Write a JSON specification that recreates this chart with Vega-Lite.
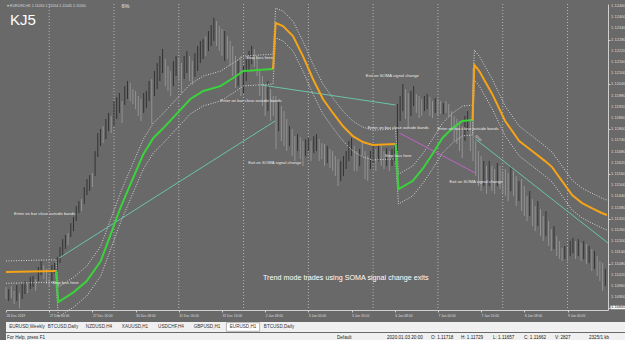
{
"$schema": "https://vega.github.io/schema/vega-lite/v6.json",
"background": "#696969",
"padding": {"left": 2, "top": 3, "right": 0, "bottom": 0},
"spacing": 0,
"config": {"font": "Liberation Sans", "view": {"stroke": null}, "axis": {"labelOverlap": false}},
"datasets": {
"bars": [
{"i":0,"h":1.10954,"l":1.10890,"dir":"down"},{"i":1,"h":1.10943,"l":1.10879,"dir":"up"},{"i":2,"h":1.10959,"l":1.10895,"dir":"down"},{"i":3,"h":1.10933,"l":1.10863,"dir":"down"},{"i":4,"h":1.10965,"l":1.10879,"dir":"up"},{"i":5,"h":1.10922,"l":1.10841,"dir":"down"},{"i":6,"h":1.10970,"l":1.10890,"dir":"up"},{"i":7,"h":1.10986,"l":1.10917,"dir":"up"},{"i":8,"h":1.10975,"l":1.10922,"dir":"down"},{"i":9,"h":1.11008,"l":1.10943,"dir":"up"},
{"i":10,"h":1.11013,"l":1.10954,"dir":"up"},{"i":11,"h":1.10997,"l":1.10933,"dir":"down"},{"i":12,"h":1.11061,"l":1.10986,"dir":"up"},{"i":13,"h":1.11093,"l":1.11018,"dir":"up"},{"i":14,"h":1.11072,"l":1.10997,"dir":"down"},{"i":15,"h":1.11051,"l":1.10970,"dir":"down"},{"i":16,"h":1.10997,"l":1.10954,"dir":"down"},{"i":17,"h":1.11072,"l":1.10986,"dir":"up"},{"i":18,"h":1.11083,"l":1.11029,"dir":"up"},{"i":19,"h":1.11115,"l":1.11040,"dir":"up"},
{"i":20,"h":1.11168,"l":1.11083,"dir":"up"},{"i":21,"h":1.11211,"l":1.11120,"dir":"up"},{"i":22,"h":1.11233,"l":1.11158,"dir":"up"},{"i":23,"h":1.11243,"l":1.11179,"dir":"down"},{"i":24,"h":1.11297,"l":1.11222,"dir":"up"},{"i":25,"h":1.11329,"l":1.11254,"dir":"up"},{"i":26,"h":1.11388,"l":1.11308,"dir":"up"},{"i":27,"h":1.11415,"l":1.11351,"dir":"up"},{"i":28,"h":1.11426,"l":1.11361,"dir":"down"},{"i":29,"h":1.11490,"l":1.11399,"dir":"up"},
{"i":30,"h":1.11533,"l":1.11447,"dir":"up"},{"i":31,"h":1.11554,"l":1.11469,"dir":"up"},{"i":32,"h":1.11565,"l":1.11490,"dir":"down"},{"i":33,"h":1.11683,"l":1.11549,"dir":"up"},{"i":34,"h":1.11779,"l":1.11651,"dir":"up"},{"i":35,"h":1.11801,"l":1.11710,"dir":"up"},{"i":36,"h":1.11817,"l":1.11726,"dir":"down"},{"i":37,"h":1.11855,"l":1.11747,"dir":"up"},{"i":38,"h":1.11887,"l":1.11790,"dir":"up"},{"i":39,"h":1.11871,"l":1.11779,"dir":"down"},
{"i":40,"h":1.11951,"l":1.11817,"dir":"up"},{"i":41,"h":1.11972,"l":1.11855,"dir":"up"},{"i":42,"h":1.11994,"l":1.11887,"dir":"up"},{"i":43,"h":1.11951,"l":1.11833,"dir":"down"},{"i":44,"h":1.12031,"l":1.11930,"dir":"up"},{"i":45,"h":1.12058,"l":1.11962,"dir":"up"},{"i":46,"h":1.12047,"l":1.11951,"dir":"down"},{"i":47,"h":1.12015,"l":1.11935,"dir":"down"},{"i":48,"h":1.12005,"l":1.11908,"dir":"down"},{"i":49,"h":1.11978,"l":1.11871,"dir":"down"},
{"i":50,"h":1.11962,"l":1.11844,"dir":"down"},{"i":51,"h":1.11994,"l":1.11887,"dir":"up"},{"i":52,"h":1.12005,"l":1.11913,"dir":"up"},{"i":53,"h":1.12058,"l":1.11951,"dir":"up"},{"i":54,"h":1.12069,"l":1.11828,"dir":"down"},{"i":55,"h":1.12112,"l":1.11978,"dir":"up"},{"i":56,"h":1.12155,"l":1.12015,"dir":"up"},{"i":57,"h":1.12192,"l":1.12058,"dir":"up"},{"i":58,"h":1.12230,"l":1.12101,"dir":"up"},{"i":59,"h":1.12176,"l":1.12031,"dir":"down"},
{"i":60,"h":1.12139,"l":1.12005,"dir":"down"},{"i":61,"h":1.12112,"l":1.11978,"dir":"down"},{"i":62,"h":1.12165,"l":1.12031,"dir":"up"},{"i":63,"h":1.12192,"l":1.12085,"dir":"up"},{"i":64,"h":1.12176,"l":1.12058,"dir":"down"},{"i":65,"h":1.12155,"l":1.11994,"dir":"down"},{"i":66,"h":1.12192,"l":1.12069,"dir":"up"},{"i":67,"h":1.12219,"l":1.12101,"dir":"up"},{"i":68,"h":1.12192,"l":1.12058,"dir":"down"},{"i":69,"h":1.12165,"l":1.12037,"dir":"down"},
{"i":70,"h":1.12208,"l":1.12080,"dir":"up"},{"i":71,"h":1.12246,"l":1.12112,"dir":"up"},{"i":72,"h":1.12273,"l":1.12155,"dir":"up"},{"i":73,"h":1.12283,"l":1.12176,"dir":"up"},{"i":74,"h":1.12299,"l":1.12192,"dir":"down"},{"i":75,"h":1.12326,"l":1.12219,"dir":"up"},{"i":76,"h":1.12358,"l":1.12246,"dir":"up"},{"i":77,"h":1.12396,"l":1.12273,"dir":"up"},{"i":78,"h":1.12380,"l":1.12246,"dir":"down"},{"i":79,"h":1.12353,"l":1.12219,"dir":"down"},
{"i":80,"h":1.12337,"l":1.12192,"dir":"down"},{"i":81,"h":1.12326,"l":1.12165,"dir":"up"},{"i":82,"h":1.12299,"l":1.12176,"dir":"down"},{"i":83,"h":1.12273,"l":1.12139,"dir":"down"},{"i":84,"h":1.12246,"l":1.12085,"dir":"down"},{"i":85,"h":1.12192,"l":1.12021,"dir":"down"},{"i":86,"h":1.12165,"l":1.12031,"dir":"up"},{"i":87,"h":1.12192,"l":1.11978,"dir":"down"},{"i":88,"h":1.12139,"l":1.11994,"dir":"up"},{"i":89,"h":1.12176,"l":1.12058,"dir":"up"},
{"i":90,"h":1.12219,"l":1.12112,"dir":"up"},{"i":91,"h":1.12246,"l":1.12149,"dir":"up"},{"i":92,"h":1.12230,"l":1.12133,"dir":"down"},{"i":93,"h":1.12192,"l":1.12085,"dir":"down"},{"i":94,"h":1.12122,"l":1.11978,"dir":"down"},{"i":95,"h":1.12085,"l":1.11924,"dir":"down"},{"i":96,"h":1.12031,"l":1.11871,"dir":"down"},{"i":97,"h":1.12058,"l":1.11897,"dir":"up"},{"i":98,"h":1.12015,"l":1.11844,"dir":"down"},{"i":99,"h":1.11978,"l":1.11871,"dir":"down"},
{"i":100,"h":1.11978,"l":1.11694,"dir":"down"},{"i":101,"h":1.11951,"l":1.11790,"dir":"up"},{"i":102,"h":1.11924,"l":1.11737,"dir":"down"},{"i":103,"h":1.11897,"l":1.11710,"dir":"down"},{"i":104,"h":1.11855,"l":1.11683,"dir":"down"},{"i":105,"h":1.11817,"l":1.11710,"dir":"up"},{"i":106,"h":1.11801,"l":1.11656,"dir":"down"},{"i":107,"h":1.11763,"l":1.11629,"dir":"down"},{"i":108,"h":1.11774,"l":1.11683,"dir":"up"},{"i":109,"h":1.11758,"l":1.11640,"dir":"down"},
{"i":110,"h":1.11737,"l":1.11603,"dir":"down"},{"i":111,"h":1.11747,"l":1.11656,"dir":"up"},{"i":112,"h":1.11753,"l":1.11683,"dir":"up"},{"i":113,"h":1.11737,"l":1.11629,"dir":"down"},{"i":114,"h":1.11763,"l":1.11672,"dir":"up"},{"i":115,"h":1.11774,"l":1.11683,"dir":"up"},{"i":116,"h":1.11747,"l":1.11629,"dir":"down"},{"i":117,"h":1.11726,"l":1.11640,"dir":"down"},{"i":118,"h":1.11721,"l":1.11603,"dir":"down"},{"i":119,"h":1.11710,"l":1.11619,"dir":"up"},
{"i":120,"h":1.11694,"l":1.11592,"dir":"down"},{"i":121,"h":1.11683,"l":1.11576,"dir":"down"},{"i":122,"h":1.11656,"l":1.11549,"dir":"down"},{"i":123,"h":1.11640,"l":1.11495,"dir":"down"},{"i":124,"h":1.11629,"l":1.11522,"dir":"up"},{"i":125,"h":1.11656,"l":1.11549,"dir":"up"},{"i":126,"h":1.11683,"l":1.11587,"dir":"up"},{"i":127,"h":1.11737,"l":1.11629,"dir":"up"},{"i":128,"h":1.11753,"l":1.11656,"dir":"up"},{"i":129,"h":1.11710,"l":1.11576,"dir":"down"},
{"i":130,"h":1.11683,"l":1.11576,"dir":"down"},{"i":131,"h":1.11694,"l":1.11603,"dir":"up"},{"i":132,"h":1.11729,"l":1.11657,"dir":"down"},{"i":133,"h":1.11683,"l":1.11533,"dir":"down"},{"i":134,"h":1.11656,"l":1.11522,"dir":"down"},{"i":135,"h":1.11683,"l":1.11587,"dir":"up"},{"i":136,"h":1.11710,"l":1.11619,"dir":"up"},{"i":137,"h":1.11694,"l":1.11576,"dir":"down"},{"i":138,"h":1.11721,"l":1.11629,"dir":"up"},{"i":139,"h":1.11710,"l":1.11603,"dir":"down"},
{"i":140,"h":1.11683,"l":1.11587,"dir":"down"},{"i":141,"h":1.11699,"l":1.11603,"dir":"up"},{"i":142,"h":1.11683,"l":1.11576,"dir":"down"},{"i":143,"h":1.11694,"l":1.11603,"dir":"up"},{"i":144,"h":1.11710,"l":1.11629,"dir":"up"},{"i":145,"h":1.11935,"l":1.11683,"dir":"up"},{"i":146,"h":1.11978,"l":1.11844,"dir":"up"},{"i":147,"h":1.12042,"l":1.11897,"dir":"up"},{"i":148,"h":1.12015,"l":1.11855,"dir":"down"},{"i":149,"h":1.11994,"l":1.11806,"dir":"down"},
{"i":150,"h":1.12005,"l":1.11871,"dir":"up"},{"i":151,"h":1.12031,"l":1.11924,"dir":"up"},{"i":152,"h":1.11989,"l":1.11887,"dir":"down"},{"i":153,"h":1.11978,"l":1.11860,"dir":"down"},{"i":154,"h":1.11962,"l":1.11871,"dir":"down"},{"i":155,"h":1.11978,"l":1.11897,"dir":"up"},{"i":156,"h":1.11989,"l":1.11908,"dir":"up"},{"i":157,"h":1.11972,"l":1.11871,"dir":"down"},{"i":158,"h":1.11951,"l":1.11860,"dir":"down"},{"i":159,"h":1.11967,"l":1.11887,"dir":"up"},
{"i":160,"h":1.11962,"l":1.11876,"dir":"down"},{"i":161,"h":1.11951,"l":1.11881,"dir":"down"},{"i":162,"h":1.11940,"l":1.11881,"dir":"up"},{"i":163,"h":1.11951,"l":1.11887,"dir":"down"},{"i":164,"h":1.11935,"l":1.11865,"dir":"down"},{"i":165,"h":1.11897,"l":1.11790,"dir":"down"},{"i":166,"h":1.11871,"l":1.11737,"dir":"down"},{"i":167,"h":1.11855,"l":1.11721,"dir":"down"},{"i":168,"h":1.11844,"l":1.11683,"dir":"down"},{"i":169,"h":1.11817,"l":1.11645,"dir":"down"},
{"i":170,"h":1.11871,"l":1.11737,"dir":"up"},{"i":171,"h":1.11897,"l":1.11790,"dir":"up"},{"i":172,"h":1.11855,"l":1.11683,"dir":"down"},{"i":173,"h":1.12128,"l":1.11629,"dir":"down"},{"i":174,"h":1.11737,"l":1.11549,"dir":"down"},{"i":175,"h":1.11683,"l":1.11495,"dir":"down"},{"i":176,"h":1.11656,"l":1.11469,"dir":"down"},{"i":177,"h":1.11629,"l":1.11495,"dir":"up"},{"i":178,"h":1.11603,"l":1.11453,"dir":"down"},{"i":179,"h":1.11629,"l":1.11495,"dir":"up"},
{"i":180,"h":1.11603,"l":1.11469,"dir":"down"},{"i":181,"h":1.11587,"l":1.11453,"dir":"down"},{"i":182,"h":1.11619,"l":1.11495,"dir":"up"},{"i":183,"h":1.11603,"l":1.11479,"dir":"down"},{"i":184,"h":1.11576,"l":1.11458,"dir":"down"},{"i":185,"h":1.11587,"l":1.11442,"dir":"down"},{"i":186,"h":1.11565,"l":1.11415,"dir":"down"},{"i":187,"h":1.11603,"l":1.11469,"dir":"up"},{"i":188,"h":1.11576,"l":1.11442,"dir":"down"},{"i":189,"h":1.11549,"l":1.11388,"dir":"down"},
{"i":190,"h":1.11522,"l":1.11415,"dir":"up"},{"i":191,"h":1.11533,"l":1.11361,"dir":"down"},{"i":192,"h":1.11495,"l":1.11335,"dir":"down"},{"i":193,"h":1.11442,"l":1.11308,"dir":"down"},{"i":194,"h":1.11469,"l":1.11335,"dir":"up"},{"i":195,"h":1.11426,"l":1.11281,"dir":"down"},{"i":196,"h":1.11388,"l":1.11254,"dir":"down"},{"i":197,"h":1.11415,"l":1.11281,"dir":"up"},{"i":198,"h":1.11372,"l":1.11227,"dir":"down"},{"i":199,"h":1.11335,"l":1.11201,"dir":"down"},
{"i":200,"h":1.11361,"l":1.11227,"dir":"up"},{"i":201,"h":1.11308,"l":1.11174,"dir":"down"},{"i":202,"h":1.11265,"l":1.11147,"dir":"down"},{"i":203,"h":1.11281,"l":1.11158,"dir":"up"},{"i":204,"h":1.11227,"l":1.11120,"dir":"down"},{"i":205,"h":1.11201,"l":1.11104,"dir":"down"},{"i":206,"h":1.11163,"l":1.11093,"dir":"down"},{"i":207,"h":1.11174,"l":1.11104,"dir":"up"},{"i":208,"h":1.11163,"l":1.11093,"dir":"down"},{"i":209,"h":1.11201,"l":1.11120,"dir":"up"},
{"i":210,"h":1.11217,"l":1.11136,"dir":"up"},{"i":211,"h":1.11201,"l":1.11104,"dir":"down"},{"i":212,"h":1.11211,"l":1.11120,"dir":"up"},{"i":213,"h":1.11190,"l":1.11093,"dir":"down"},{"i":214,"h":1.11201,"l":1.11104,"dir":"up"},{"i":215,"h":1.11185,"l":1.11077,"dir":"down"},{"i":216,"h":1.11174,"l":1.11083,"dir":"up"},{"i":217,"h":1.11158,"l":1.11040,"dir":"down"},{"i":218,"h":1.11147,"l":1.11051,"dir":"up"},{"i":219,"h":1.11120,"l":1.11013,"dir":"down"},
{"i":220,"h":1.11093,"l":1.10986,"dir":"down"},{"i":221,"h":1.11083,"l":1.10933,"dir":"down"},{"i":222,"h":1.11051,"l":1.10959,"dir":"up"}
],
"soma": [
{"i":0,"p":1.11034,"seg":"A","trend":"down"},{"i":18.5,"p":1.11040,"seg":"A","trend":"down"},
{"i":18.5,"p":1.11040,"seg":"B","trend":"up"},{"i":19.4,"p":1.10874,"seg":"B","trend":"up"},{"i":25.1,"p":1.10927,"seg":"B","trend":"up"},{"i":29.9,"p":1.10986,"seg":"B","trend":"up"},{"i":35.1,"p":1.11093,"seg":"B","trend":"up"},{"i":38.8,"p":1.11238,"seg":"B","trend":"up"},{"i":42.5,"p":1.11383,"seg":"B","trend":"up"},{"i":46.1,"p":1.11506,"seg":"B","trend":"up"},{"i":50.9,"p":1.11667,"seg":"B","trend":"up"},{"i":54.6,"p":1.11753,"seg":"B","trend":"up"},{"i":58.3,"p":1.11806,"seg":"B","trend":"up"},{"i":63.1,"p":1.11881,"seg":"B","trend":"up"},{"i":68.3,"p":1.11962,"seg":"B","trend":"up"},{"i":73.1,"p":1.12005,"seg":"B","trend":"up"},{"i":79.4,"p":1.12031,"seg":"B","trend":"up"},{"i":85.3,"p":1.12085,"seg":"B","trend":"up"},{"i":87.9,"p":1.12112,"seg":"B","trend":"up"},{"i":93.4,"p":1.12117,"seg":"B","trend":"up"},{"i":98.9,"p":1.12122,"seg":"B","trend":"up"},
{"i":98.9,"p":1.12122,"seg":"C","trend":"down"},{"i":99.9,"p":1.12369,"seg":"C","trend":"down"},{"i":102.6,"p":1.12353,"seg":"C","trend":"down"},{"i":106.3,"p":1.12299,"seg":"C","trend":"down"},{"i":110,"p":1.12192,"seg":"C","trend":"down"},{"i":113.7,"p":1.12069,"seg":"C","trend":"down"},{"i":117.4,"p":1.11962,"seg":"C","trend":"down"},{"i":121.1,"p":1.11887,"seg":"C","trend":"down"},{"i":124.8,"p":1.11817,"seg":"C","trend":"down"},{"i":128.5,"p":1.11763,"seg":"C","trend":"down"},{"i":132.2,"p":1.11731,"seg":"C","trend":"down"},{"i":135.8,"p":1.11715,"seg":"C","trend":"down"},{"i":144.3,"p":1.11721,"seg":"C","trend":"down"},
{"i":144.3,"p":1.11721,"seg":"D","trend":"up"},{"i":145.4,"p":1.11479,"seg":"D","trend":"up"},{"i":150.6,"p":1.11522,"seg":"D","trend":"up"},{"i":154.3,"p":1.11587,"seg":"D","trend":"up"},{"i":158,"p":1.11667,"seg":"D","trend":"up"},{"i":161.7,"p":1.11753,"seg":"D","trend":"up"},{"i":165.4,"p":1.11806,"seg":"D","trend":"up"},{"i":169.1,"p":1.11844,"seg":"D","trend":"up"},{"i":172.8,"p":1.11849,"seg":"D","trend":"up"},
{"i":172.8,"p":1.11849,"seg":"E","trend":"down"},{"i":173.5,"p":1.12144,"seg":"E","trend":"down"},{"i":175.3,"p":1.12112,"seg":"E","trend":"down"},{"i":180.1,"p":1.11989,"seg":"E","trend":"down"},{"i":184.9,"p":1.11844,"seg":"E","trend":"down"},{"i":190.1,"p":1.11737,"seg":"E","trend":"down"},{"i":194.9,"p":1.11683,"seg":"E","trend":"down"},{"i":199.7,"p":1.11629,"seg":"E","trend":"down"},{"i":202.3,"p":1.11597,"seg":"E","trend":"down"},{"i":206,"p":1.11522,"seg":"E","trend":"down"},{"i":209.7,"p":1.11447,"seg":"E","trend":"down"},{"i":213.4,"p":1.11404,"seg":"E","trend":"down"},{"i":217,"p":1.11377,"seg":"E","trend":"down"},{"i":220.7,"p":1.11351,"seg":"E","trend":"down"},{"i":222.6,"p":1.11340,"seg":"E","trend":"down"}
],
"bands": [
{"i":0,"hi":1.11094,"lo":1.10974},{"i":18.5,"hi":1.11100,"lo":1.10980},{"i":19.4,"hi":1.10954,"lo":1.10794},{"i":25.1,"hi":1.11007,"lo":1.10847},{"i":29.9,"hi":1.11066,"lo":1.10906},{"i":35.1,"hi":1.11173,"lo":1.11013},{"i":38.8,"hi":1.11318,"lo":1.11158},{"i":42.5,"hi":1.11463,"lo":1.11303},{"i":46.1,"hi":1.11586,"lo":1.11426},{"i":50.9,"hi":1.11747,"lo":1.11587},{"i":54.6,"hi":1.11833,"lo":1.11673},{"i":58.3,"hi":1.11886,"lo":1.11726},{"i":63.1,"hi":1.11961,"lo":1.11801},{"i":68.3,"hi":1.12042,"lo":1.11882},{"i":73.1,"hi":1.12085,"lo":1.11925},{"i":79.4,"hi":1.12111,"lo":1.11951},{"i":85.3,"hi":1.12165,"lo":1.12005},{"i":87.9,"hi":1.12192,"lo":1.12032},{"i":93.4,"hi":1.12197,"lo":1.12037},{"i":98.9,"hi":1.12202,"lo":1.12042},
{"i":99.9,"hi":1.12449,"lo":1.12289},{"i":102.6,"hi":1.12433,"lo":1.12273},{"i":106.3,"hi":1.12379,"lo":1.12219},{"i":110,"hi":1.12272,"lo":1.12112},{"i":113.7,"hi":1.12149,"lo":1.11989},{"i":117.4,"hi":1.12042,"lo":1.11882},{"i":121.1,"hi":1.11967,"lo":1.11807},{"i":124.8,"hi":1.11897,"lo":1.11737},{"i":128.5,"hi":1.11843,"lo":1.11683},{"i":132.2,"hi":1.11811,"lo":1.11651},{"i":135.8,"hi":1.11795,"lo":1.11635},{"i":144.3,"hi":1.11801,"lo":1.11641},
{"i":145.4,"hi":1.11559,"lo":1.11399},{"i":150.6,"hi":1.11602,"lo":1.11442},{"i":154.3,"hi":1.11667,"lo":1.11507},{"i":158,"hi":1.11747,"lo":1.11587},{"i":161.7,"hi":1.11833,"lo":1.11673},{"i":165.4,"hi":1.11886,"lo":1.11726},{"i":169.1,"hi":1.11924,"lo":1.11764},{"i":172.8,"hi":1.11929,"lo":1.11769},
{"i":173.5,"hi":1.12224,"lo":1.12064},{"i":175.3,"hi":1.12192,"lo":1.12032},{"i":180.1,"hi":1.12069,"lo":1.11909},{"i":184.9,"hi":1.11924,"lo":1.11764},{"i":190.1,"hi":1.11817,"lo":1.11657},{"i":194.9,"hi":1.11763,"lo":1.11603},{"i":199.7,"hi":1.11709,"lo":1.11549},{"i":202.3,"hi":1.11677,"lo":1.11517},{"i":206,"hi":1.11602,"lo":1.11442},{"i":209.7,"hi":1.11527,"lo":1.11367},{"i":213.4,"hi":1.11484,"lo":1.11324},{"i":217,"hi":1.11457,"lo":1.11297},{"i":220.7,"hi":1.11431,"lo":1.11271},{"i":222.6,"hi":1.11420,"lo":1.11260}
],
"trendlines": [
{"line":"t1","i":19.6,"p":1.11109},{"line":"t1","i":99.7,"p":1.11844},
{"line":"t2","i":94.5,"p":1.12037},{"line":"t2","i":144.3,"p":1.11930},
{"line":"m1","i":145.8,"p":1.11779},{"line":"m1","i":173.9,"p":1.11565},
{"line":"t3","i":173.9,"p":1.11747},{"line":"t3","i":223,"p":1.11190}
],
"notes": [
{"t":"Stop loss here","i":89,"p":1.12181},
{"t":"Enter on bar close outside bands","i":79.4,"p":1.11951},
{"t":"Exit on SOMA signal change","i":89.7,"p":1.11619},
{"t":"Exit on SOMA signal change","i":133.3,"p":1.12085},
{"t":"Enter on bar close outside bands","i":134,"p":1.11806},
{"t":"Stop loss here","i":140.3,"p":1.11656},
{"t":"Enter on bar close outside bands","i":159.8,"p":1.11801},
{"t":"Exit on SOMA signal change","i":164.3,"p":1.11517},
{"t":"Enter on bar close outside bands","i":3,"p":1.11345},
{"t":"Stop loss here","i":17,"p":1.10975}
],
"prices": [
{"v":1.1084},{"v":1.1090},{"v":1.1096},{"v":1.1102},{"v":1.1108},{"v":1.1114},{"v":1.1120},{"v":1.1126},{"v":1.1132},{"v":1.1138},{"v":1.1144},{"v":1.1150},{"v":1.1156},{"v":1.1162},
{"v":1.1168},{"v":1.1174},{"v":1.1180},{"v":1.1186},{"v":1.1192},{"v":1.1198},{"v":1.1204},{"v":1.1210},{"v":1.1216},{"v":1.1222},{"v":1.1228},{"v":1.1234},{"v":1.1240},{"v":1.1246}
],
"days": [{"i":16},{"i":40},{"i":64},{"i":88},{"i":112},{"i":136},{"i":160},{"i":184},{"i":208}],
"tabs": [
{"n":0,"name":"EURUSD,Weekly"},{"n":1,"name":"BTCUSD,Daily"},{"n":2,"name":"NZDUSD,H4"},{"n":3,"name":"XAUUSD,H1"},{"n":4,"name":"USDCHF,H4"},{"n":5,"name":"GBPUSD,H1"},{"n":6,"name":"EURUSD,H1"},{"n":7,"name":"BTCUSD,Daily"}
],
"status": [
{"n":0,"t":"For Help, press F1"},{"n":1,"t":"Default"},{"n":2,"t":"2020.01.03 20:00"},{"n":3,"t":"O: 1.11718"},{"n":4,"t":"H: 1.11729"},{"n":5,"t":"L: 1.11657"},{"n":6,"t":"C: 1.11662"},{"n":7,"t":"V: 2827"},{"n":8,"t":"2325/1 kb"}
]
},
"vconcat": [
{
"width": 602, "height": 306,
"view": {"stroke": null},
"resolve": {"scale": {"color": "independent"}},
"layer": [
{"data": {"name": "days"},
 "mark": {"type": "rule", "color": "#b4b4b4", "strokeDash": [1, 2], "strokeWidth": 1},
 "encoding": {"x": {"field": "i", "type": "quantitative",
   "scale": {"domain": [0, 223], "nice": false, "zero": false},
   "axis": {"orient": "bottom", "title": null, "grid": false,
     "values": [0,8,16,24,32,40,48,56,64,72,80,88,96,104,112,120,128,136,144,152,160,168,176,184,192,200,208,216],
     "labelExpr": "['26 Dec 2019','26 Dec 16:00','27 Dec 00:00','27 Dec 08:00','27 Dec 16:00','30 Dec 00:00','30 Dec 08:00','30 Dec 16:00','31 Dec 00:00','31 Dec 08:00','31 Dec 16:00','2 Jan 00:00','2 Jan 08:00','2 Jan 16:00','3 Jan 00:00','3 Jan 08:00','3 Jan 16:00','6 Jan 00:00','6 Jan 08:00','6 Jan 16:00','7 Jan 00:00','7 Jan 08:00','7 Jan 16:00','8 Jan 00:00','8 Jan 08:00','8 Jan 16:00','9 Jan 00:00','9 Jan 08:00'][round(datum.value/8)]",
     "labelAlign": "left", "labelFontSize": 3.3, "labelColor": "#dedede", "labelPadding": 1.5,
     "tickSize": 2, "tickColor": "#cfcfcf", "domainColor": "#cfcfcf", "domainWidth": 1,
     "labelOverlap": false, "labelFlush": false, "labelBound": false,
     "minExtent": 11, "maxExtent": 11}}}},
{"data": {"name": "bars"},
 "mark": {"type": "rule", "strokeWidth": 1},
 "encoding": {
   "x": {"field": "i", "type": "quantitative"},
   "y": {"field": "l", "type": "quantitative",
     "scale": {"domain": [1.10831, 1.12471], "nice": false, "zero": false},
     "axis": {"orient": "right", "title": null, "grid": false, "labels": false,
       "values": [1.1084,1.109,1.1096,1.1102,1.1108,1.1114,1.112,1.1126,1.1132,1.1138,1.1144,1.115,1.1156,1.1162,1.1168,1.1174,1.118,1.1186,1.1192,1.1198,1.1204,1.121,1.1216,1.1222,1.1228,1.1234,1.124,1.1246],
       "tickSize": 2, "tickColor": "#cfcfcf", "domainColor": "#cfcfcf", "minExtent": 2, "maxExtent": 2}},
   "y2": {"field": "h"},
   "color": {"field": "dir", "type": "nominal", "scale": {"domain": ["up", "down"], "range": ["#333333", "#939393"]}, "legend": null}}},
{"data": {"name": "prices"},
 "mark": {"type": "text", "align": "left", "baseline": "middle", "dx": 3, "fontSize": 4.1, "color": "#dedede"},
 "encoding": {"x": {"datum": 223}, "y": {"field": "v", "type": "quantitative"}, "text": {"field": "v", "type": "quantitative", "format": ".5f"}}},
{"data": {"name": "bands"},
 "mark": {"type": "line", "color": "#d6d6d6", "strokeWidth": 1, "strokeDash": [1, 1.5]},
 "encoding": {"x": {"field": "i", "type": "quantitative"}, "y": {"field": "hi", "type": "quantitative"}}},
{"data": {"name": "bands"},
 "mark": {"type": "line", "color": "#d6d6d6", "strokeWidth": 1, "strokeDash": [1, 1.5]},
 "encoding": {"x": {"field": "i", "type": "quantitative"}, "y": {"field": "lo", "type": "quantitative"}}},
{"data": {"name": "trendlines"},
 "mark": {"type": "line", "strokeWidth": 1},
 "encoding": {"x": {"field": "i", "type": "quantitative"}, "y": {"field": "p", "type": "quantitative"},
   "detail": {"field": "line"},
   "color": {"field": "line", "type": "nominal", "scale": {"domain": ["t1", "t2", "m1", "t3"], "range": ["#6cc3aa", "#6cc3aa", "#c064c4", "#6cc3aa"]}, "legend": null}}},
{"data": {"name": "soma"},
 "mark": {"type": "line", "strokeWidth": 2},
 "encoding": {"x": {"field": "i", "type": "quantitative"}, "y": {"field": "p", "type": "quantitative"},
   "detail": {"field": "seg"},
   "color": {"field": "trend", "type": "nominal", "scale": {"domain": ["down", "up"], "range": ["#f5a317", "#3ad43a"]}, "legend": null}}},
{"mark": {"type": "rule", "color": "#e0452c", "strokeWidth": 2},
 "encoding": {"y": {"datum": 1.10866}}},
{"mark": {"type": "rule", "color": "#bebebe", "strokeWidth": 1},
 "encoding": {"y": {"datum": 1.10845}}},
{"data": {"values": [{"t": "1.10845", "p": 1.10845}]},
 "layer": [
  {"mark": {"type": "point", "shape": "M-1,-0.22L1,-0.22L1,0.22L-1,0.22Z", "filled": true, "fill": "#f4f4f4", "stroke": null, "size": 289, "opacity": 1, "xOffset": 11},
   "encoding": {"x": {"datum": 223}, "y": {"field": "p", "type": "quantitative"}}},
  {"mark": {"type": "text", "align": "left", "baseline": "middle", "dx": 3, "fontSize": 4.1, "color": "#333333"},
   "encoding": {"x": {"datum": 223}, "y": {"field": "p", "type": "quantitative"}, "text": {"field": "t"}}}
 ]},
{"data": {"name": "notes"},
 "mark": {"type": "text", "align": "left", "baseline": "middle", "fontSize": 4.2, "color": "#e8e8e8"},
 "encoding": {"x": {"field": "i", "type": "quantitative"}, "y": {"field": "p", "type": "quantitative"}, "text": {"field": "t"}}},
{"data": {"values": [{"t": "Trend mode trades using SOMA signal change exits", "i": 95.2, "p": 1.11002}]},
 "mark": {"type": "text", "align": "left", "baseline": "middle", "fontSize": 7.2, "color": "#ffffff"},
 "encoding": {"x": {"field": "i", "type": "quantitative"}, "y": {"field": "p", "type": "quantitative"}, "text": {"field": "t"}}},
{"data": {"values": [{"t": "KJ5", "i": 1.5, "p": 1.12385}]},
 "mark": {"type": "text", "align": "left", "baseline": "middle", "fontSize": 15, "color": "#ffffff"},
 "encoding": {"x": {"field": "i", "type": "quantitative"}, "y": {"field": "p", "type": "quantitative"}, "text": {"field": "t"}}},
{"data": {"values": [{"t": "▾ EURUSD,H1  1.11050 1.11054 1.11045 1.11050", "i": 0.4, "p": 1.1246}]},
 "mark": {"type": "text", "align": "left", "baseline": "middle", "fontSize": 3.6, "color": "#dcdcdc"},
 "encoding": {"x": {"field": "i", "type": "quantitative"}, "y": {"field": "p", "type": "quantitative"}, "text": {"field": "t"}}},
{"data": {"values": [{"t": "6%", "i": 42.8, "p": 1.1246}]},
 "mark": {"type": "text", "align": "left", "baseline": "middle", "fontSize": 5.5, "color": "#e6e6e6"},
 "encoding": {"x": {"field": "i", "type": "quantitative"}, "y": {"field": "p", "type": "quantitative"}, "text": {"field": "t"}}},
{"data": {"values": [{"t": "Stop", "i": 173.8, "p": 1.11765}]},
 "mark": {"type": "text", "align": "left", "baseline": "middle", "fontSize": 3.8, "color": "#dcdcdc", "angle": 38},
 "encoding": {"x": {"field": "i", "type": "quantitative"}, "y": {"field": "p", "type": "quantitative"}, "text": {"field": "t"}}}
]
},
{
"width": 623, "height": 10,
"view": {"fill": "#f0f0f0", "stroke": null},
"data": {"name": "tabs"},
"layer": [
{"transform": [{"filter": "datum.n == 6"}],
 "mark": {"type": "point", "shape": "M-1,-0.26L1,-0.26L1,0.26L-1,0.26Z", "filled": true, "fill": "#ffffff", "stroke": "#9a9a9a", "strokeWidth": 0.7, "size": 1100, "opacity": 1},
 "encoding": {"x": {"field": "n", "type": "quantitative", "scale": {"domain": [-0.583, 16.72], "nice": false, "zero": false}, "axis": null}}},
{"mark": {"type": "text", "fontSize": 4.6, "color": "#333333"},
 "encoding": {"x": {"field": "n", "type": "quantitative", "axis": null}, "text": {"field": "name"}}}
]
},
{
"width": 623, "height": 10,
"view": {"fill": "#f0f0f0", "stroke": null},
"data": {"name": "status"},
"mark": {"type": "text", "align": "left", "fontSize": 4.6, "color": "#222222"},
"encoding": {
  "x": {"field": "n", "type": "quantitative", "scale": {"domain": [0,1,2,3,4,5,6,7,8], "range": [1,331,381,425,455,487,518,549,583], "nice": false, "zero": false}, "axis": null},
  "text": {"field": "t"}}
}
]
}
